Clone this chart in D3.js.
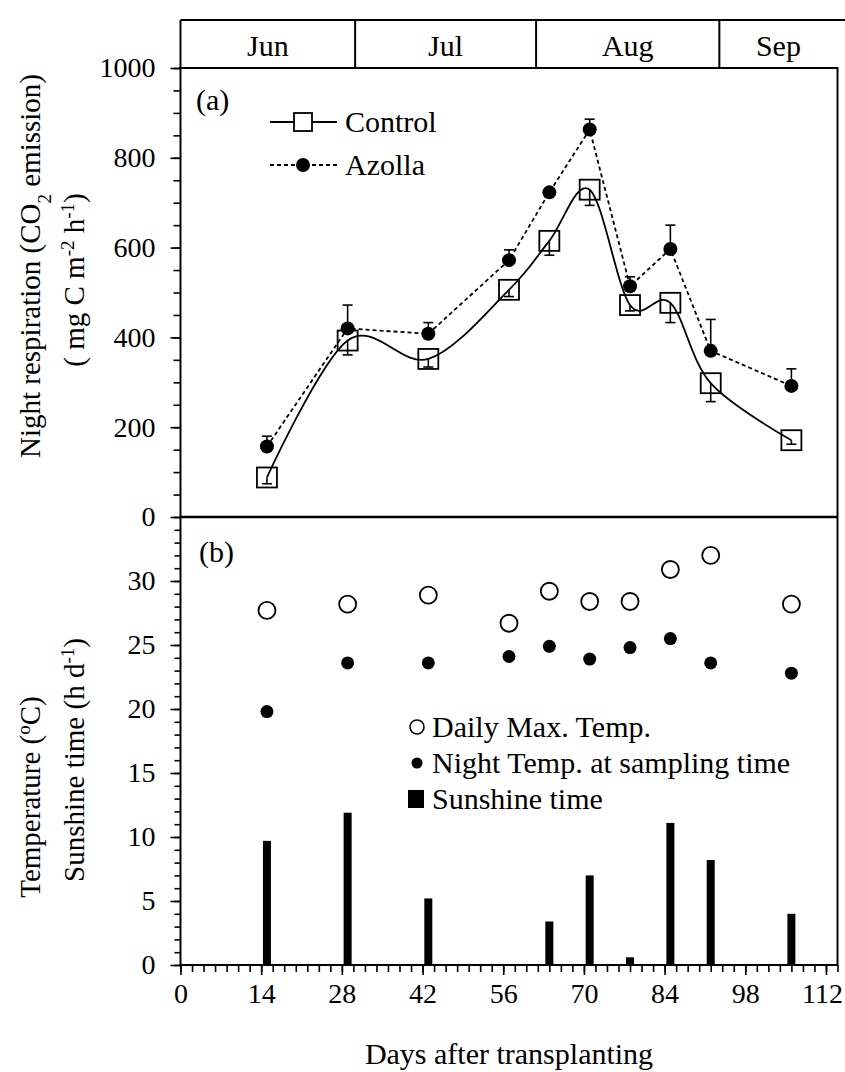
<!DOCTYPE html>
<html>
<head>
<meta charset="utf-8">
<script src="https://cdn.jsdelivr.net/npm/d3@7"></script>
<style>
  body { margin: 0; background: #fff; }
  text { font-family: "Liberation Serif", "Times New Roman", serif; fill: #000; }
</style>
</head>
<body>
<div id="chart"></div>
<script>
// sampling days (days after transplanting)
var days = [15, 29, 43, 57, 64, 71, 78, 85, 92, 106];

// (a) night respiration, mg C m-2 h-1
var control    = [88, 393, 352, 506, 615, 729, 472, 477, 298, 171];
var controlErr = [14, 32, 18, 15, 32, 35, 13, 44, 41, 9];
var azolla     = [157, 420, 408, 572, 723, 863, 514, 597, 370, 292];
var azollaErr  = [23, 52, 25, 23, 6, 23, 21, 53, 70, 38];

// (b) weather
var maxTemp   = [27.7, 28.2, 28.9, 26.7, 29.2, 28.4, 28.4, 30.9, 32.0, 28.2];
var nightTemp = [19.8, 23.6, 23.6, 24.1, 24.9, 23.9, 24.8, 25.5, 23.6, 22.8];
var sunshine  = [9.7, 11.9, 5.2, 0, 3.4, 7.0, 0.6, 11.1, 8.2, 4.0];

// month strip on top
var months = ["Jun", "Jul", "Aug", "Sep"];
var monthStarts = [0, 30.3, 61.7, 93.5];

// tick labels
var xTicks  = [0, 14, 28, 42, 56, 70, 84, 98, 112];
var yTicksA = [0, 200, 400, 600, 800, 1000];
var yTicksB = [0, 5, 10, 15, 20, 25, 30];

var width = 845, height = 1072;
var left = 180.5, right = 837.5;
var monthTop = 20, topA = 68, bottomA = 517, bottomB = 965;
var fontSize = 30, tickFont = 28;

var svg = d3.select("#chart")
  .append("svg")
    .attr("width", width)
    .attr("height", height);

var x  = d3.scaleLinear().domain([0, 114]).range([left, right]);
var yA = d3.scaleLinear().domain([0, 1000]).range([bottomA, topA]);
var yB = d3.scaleLinear().domain([0, 35]).range([bottomB, bottomA]);

var a = days.map(function(d, i) {
  return {day: d, c: control[i], ce: controlErr[i], z: azolla[i], ze: azollaErr[i]};
});
var b = days.map(function(d, i) {
  return {day: d, max: maxTemp[i], night: nightTemp[i], sun: sunshine[i]};
});

// ---- axes (minor ticks first, then labelled ones)
function styleAxis(g) {
  g.select(".domain").remove();
  g.selectAll("line").attr("stroke", "#000").attr("stroke-width", 1.6);
  g.attr("font-size", tickFont).attr("font-family", null);
}

svg.append("g")
    .attr("transform", "translate(" + left + ",0)")
    .call(d3.axisLeft(yA).tickValues(d3.range(0, 1001, 50)).tickSize(7).tickFormat(""))
    .call(styleAxis);
svg.append("g")
    .attr("transform", "translate(" + left + ",0)")
    .call(d3.axisLeft(yA).tickValues(yTicksA).tickSize(10).tickPadding(15).tickFormat(d3.format("d")))
    .call(styleAxis);

svg.append("g")
    .attr("transform", "translate(" + left + ",0)")
    .call(d3.axisLeft(yB).tickValues(d3.range(0, 35, 1)).tickSize(6).tickFormat(""))
    .call(styleAxis);
svg.append("g")
    .attr("transform", "translate(" + left + ",0)")
    .call(d3.axisLeft(yB).tickValues(yTicksB).tickSize(10).tickPadding(15))
    .call(styleAxis);

svg.append("g")
    .attr("transform", "translate(0," + bottomB + ")")
    .call(d3.axisBottom(x).tickValues(d3.range(0, 115, 2)).tickSize(7).tickFormat(""))
    .call(styleAxis);
svg.append("g")
    .attr("transform", "translate(0," + bottomB + ")")
    .call(d3.axisBottom(x).tickValues(xTicks).tickSize(10).tickPadding(8))
    .call(styleAxis)
  .selectAll("text")
    .filter(function(d) { return d == 112; })
    .attr("dx", -4);

// ---- frames
svg.append("rect")
    .attr("x", left).attr("y", topA)
    .attr("width", right - left).attr("height", bottomB - topA)
    .attr("fill", "none").attr("stroke", "#000").attr("stroke-width", 2);
svg.append("line")
    .attr("x1", left).attr("x2", right)
    .attr("y1", bottomA).attr("y2", bottomA)
    .attr("stroke", "#000").attr("stroke-width", 2.4);

// month strip
svg.append("line")
    .attr("x1", left).attr("x2", width)
    .attr("y1", monthTop).attr("y2", monthTop)
    .attr("stroke", "#000").attr("stroke-width", 2);
svg.append("g")
  .selectAll("line")
  .data(monthStarts)
  .enter()
  .append("line")
    .attr("x1", function(d) { return x(d); })
    .attr("x2", function(d) { return x(d); })
    .attr("y1", monthTop).attr("y2", topA)
    .attr("stroke", "#000").attr("stroke-width", 2);
svg.append("g")
  .selectAll("text")
  .data(months)
  .enter()
  .append("text")
    .attr("x", function(d, i) {
      var end = i < months.length - 1 ? monthStarts[i + 1] : x.domain()[1];
      return x((monthStarts[i] + end) / 2);
    })
    .attr("y", 56)
    .attr("text-anchor", "middle")
    .style("font-size", fontSize + "px")
    .text(function(d) { return d; });

// ---- panel (a)
var smooth = d3.line()
    .x(function(d) { return x(d.day); })
    .y(function(d) { return yA(d.c); })
    .curve(d3.curveCatmullRom.alpha(0));
var straight = d3.line()
    .x(function(d) { return x(d.day); })
    .y(function(d) { return yA(d.z); });

svg.append("path")
    .datum(a)
    .attr("d", smooth)
    .attr("fill", "none").attr("stroke", "#000").attr("stroke-width", 1.8);
svg.append("path")
    .datum(a)
    .attr("d", straight)
    .attr("fill", "none").attr("stroke", "#000").attr("stroke-width", 1.8)
    .attr("stroke-dasharray", "4,3");

// error bars: control below, azolla above
var err = svg.append("g").attr("stroke", "#000").attr("stroke-width", 1.6);
a.forEach(function(d) {
  var cx = x(d.day);
  [[d.c, d.c - d.ce], [d.z, d.z + d.ze]].forEach(function(p) {
    err.append("line").attr("x1", cx).attr("x2", cx).attr("y1", yA(p[0])).attr("y2", yA(p[1]));
    err.append("line").attr("x1", cx - 5).attr("x2", cx + 5).attr("y1", yA(p[1])).attr("y2", yA(p[1]));
  });
});

svg.append("g")
  .selectAll("rect")
  .data(a)
  .enter()
  .append("rect")
    .attr("x", function(d) { return x(d.day) - 10; })
    .attr("y", function(d) { return yA(d.c) - 10; })
    .attr("width", 20).attr("height", 20)
    .attr("fill", "none").attr("stroke", "#000").attr("stroke-width", 1.8);
svg.append("g")
  .selectAll("circle")
  .data(a)
  .enter()
  .append("circle")
    .attr("cx", function(d) { return x(d.day); })
    .attr("cy", function(d) { return yA(d.z); })
    .attr("r", 7)
    .attr("fill", "#000");

svg.append("text").attr("x", 196).attr("y", 110).style("font-size", fontSize + "px").text("(a)");

// legend (a)
var legA = svg.append("g");
legA.append("line").attr("x1", 270).attr("x2", 337).attr("y1", 122).attr("y2", 122)
    .attr("stroke", "#000").attr("stroke-width", 1.8);
legA.append("rect").attr("x", 294).attr("y", 113).attr("width", 18).attr("height", 18)
    .attr("fill", "#fff").attr("stroke", "#000").attr("stroke-width", 1.8);
legA.append("text").attr("x", 345).attr("y", 132).style("font-size", fontSize + "px").text("Control");
legA.append("line").attr("x1", 270).attr("x2", 337).attr("y1", 165).attr("y2", 165)
    .attr("stroke", "#000").attr("stroke-width", 1.8).attr("stroke-dasharray", "4,3");
legA.append("circle").attr("cx", 303).attr("cy", 165).attr("r", 7).attr("fill", "#000");
legA.append("text").attr("x", 345).attr("y", 175).style("font-size", fontSize + "px").text("Azolla");

// ---- panel (b)
svg.append("g")
  .selectAll("rect")
  .data(b.filter(function(d) { return d.sun > 0; }))
  .enter()
  .append("rect")
    .attr("x", function(d) { return x(d.day) - 4; })
    .attr("y", function(d) { return yB(d.sun); })
    .attr("width", 8)
    .attr("height", function(d) { return yB(0) - yB(d.sun); })
    .attr("fill", "#000");
svg.append("g")
  .selectAll("circle")
  .data(b)
  .enter()
  .append("circle")
    .attr("cx", function(d) { return x(d.day); })
    .attr("cy", function(d) { return yB(d.max); })
    .attr("r", 8.5)
    .attr("fill", "#fff").attr("stroke", "#000").attr("stroke-width", 1.8);
svg.append("g")
  .selectAll("circle")
  .data(b)
  .enter()
  .append("circle")
    .attr("cx", function(d) { return x(d.day); })
    .attr("cy", function(d) { return yB(d.night); })
    .attr("r", 6.5)
    .attr("fill", "#000");

svg.append("text").attr("x", 199).attr("y", 562).style("font-size", fontSize + "px").text("(b)");

// legend (b)
var legB = svg.append("g");
legB.append("circle").attr("cx", 417).attr("cy", 727).attr("r", 7)
    .attr("fill", "#fff").attr("stroke", "#000").attr("stroke-width", 1.6);
legB.append("text").attr("x", 432).attr("y", 737).style("font-size", fontSize + "px").text("Daily Max. Temp.");
legB.append("circle").attr("cx", 417).attr("cy", 763).attr("r", 5.5).attr("fill", "#000");
legB.append("text").attr("x", 432).attr("y", 773).style("font-size", fontSize + "px").text("Night Temp. at sampling time");
legB.append("rect").attr("x", 408).attr("y", 790).attr("width", 16).attr("height", 18).attr("fill", "#000");
legB.append("text").attr("x", 432).attr("y", 809).style("font-size", fontSize + "px").text("Sunshine time");

// ---- axis titles
svg.append("text")
    .attr("x", (left + right) / 2).attr("y", 1064)
    .attr("text-anchor", "middle")
    .style("font-size", fontSize + "px")
    .text("Days after transplanting");

function vTitle(cx, cy, parts) {
  var t = svg.append("text")
      .attr("transform", "translate(" + cx + "," + cy + ") rotate(-90)")
      .attr("text-anchor", "middle")
      .attr("dy", "0.35em")
      .style("font-size", "29px");
  parts.forEach(function(p) {
    var s = t.append("tspan").text(p[0]);
    if (p[1] == "sub") s.attr("baseline-shift", "sub").style("font-size", "19px");
    if (p[1] == "sup") s.attr("baseline-shift", "super").style("font-size", "19px");
  });
}
vTitle(30, 266, [["Night respiration (CO"], ["2", "sub"], [" emission)"]]);
vTitle(74, 280, [["( mg C m"], ["-2", "sup"], [" h"], ["-1", "sup"], [")"]]);
vTitle(30, 797, [["Temperature ("], ["o", "sup"], ["C)"]]);
vTitle(74, 760, [["Sunshine time (h d"], ["-1", "sup"], [")"]]);
</script>
</body>
</html>
